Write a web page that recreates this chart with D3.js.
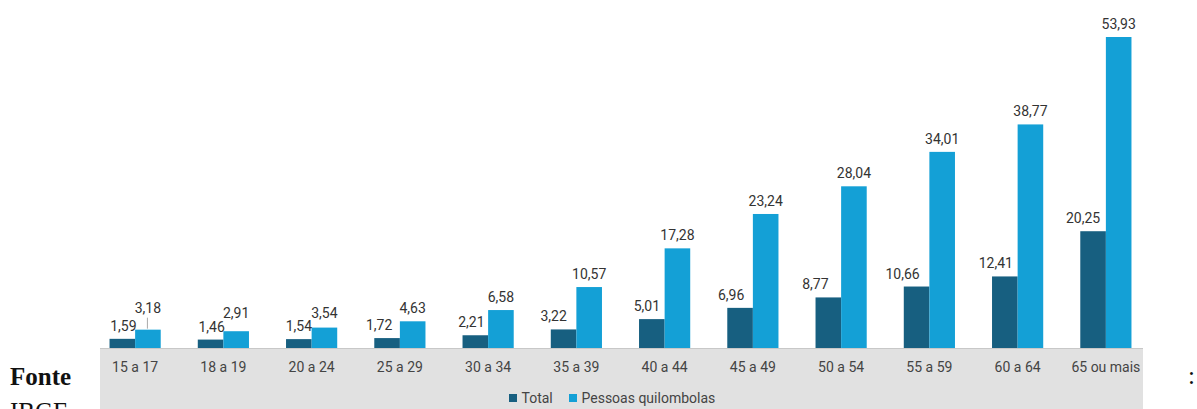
<!DOCTYPE html>
<html lang="pt-BR">
<head>
<meta charset="utf-8">
<script src="https://cdn.jsdelivr.net/npm/d3@7"></script>
<style>
  html, body { margin: 0; padding: 0; background: #fff; }
  svg { display: block; }
  .val { font-family: Roboto, "Noto Sans", sans-serif; font-size: 14px; fill: #333; }
  .cat { font-family: Roboto, "Noto Sans", sans-serif; font-size: 14px; fill: #444; }
  .leg { font-family: Roboto, "Noto Sans", sans-serif; font-size: 14px; fill: #444; }
</style>
</head>
<body>
<svg id="chart" width="1197" height="409"></svg>
<script>
// Faixas etárias
const categories = ["15 a 17", "18 a 19", "20 a 24", "25 a 29", "30 a 34", "35 a 39",
                    "40 a 44", "45 a 49", "50 a 54", "55 a 59", "60 a 64", "65 ou mais"];
// Taxa (%) – população total
const totalValues = [1.59, 1.46, 1.54, 1.72, 2.21, 3.22, 5.01, 6.96, 8.77, 10.66, 12.41, 20.25];
// Taxa (%) – pessoas quilombolas
const quilombolaValues = [3.18, 2.91, 3.54, 4.63, 6.58, 10.57, 17.28, 23.24, 28.04, 34.01, 38.77, 53.93];
const seriesNames = ["Total", "Pessoas quilombolas"];
const seriesColors = ["#175f80", "#14a0d6"];

const svg = d3.select("#chart");
const baseY = 348;

// Small label nudges where neighbouring labels would collide
const darkLabelDx = [1, 1, 0, -8, -4, -10, -5, -9, -13, -14, -9, -10];
const lightLabelLift = [9, 5, 2, 0, 0, 0, 0, 0, 0, 0, 0, 0];

const x0 = d3.scaleBand().domain(categories).range([91, 1150])
  .paddingInner(0.42).paddingOuter(0.21);
const x1 = d3.scaleBand().domain(seriesNames).range([0, x0.bandwidth()]);
const y = d3.scaleLinear().domain([0, d3.max(quilombolaValues)]).range([baseY, 37]);

// Grey band holding the category axis and the legend
svg.append("rect").attr("x", 100).attr("y", baseY).attr("width", 1043).attr("height", 409 - baseY)
  .attr("fill", "#e1e1e1");
svg.append("line").attr("x1", 100).attr("x2", 1143).attr("y1", baseY + 0.5).attr("y2", baseY + 0.5)
  .attr("stroke", "#c8c8c8").attr("stroke-width", 1);

const rows = categories.map((c, i) => ({
  cat: c, i,
  vals: [{ s: seriesNames[0], v: totalValues[i] }, { s: seriesNames[1], v: quilombolaValues[i] }]
}));

const groups = svg.append("g").selectAll("g").data(rows).join("g")
  .attr("transform", d => `translate(${x0(d.cat)},0)`);

groups.selectAll("rect").data(d => d.vals).join("rect")
  .attr("x", d => x1(d.s))
  .attr("y", d => y(d.v))
  .attr("width", x1.bandwidth())
  .attr("height", d => baseY - y(d.v))
  .attr("fill", (d, j) => seriesColors[j]);

const fmt = v => d3.format(".2f")(v).replace(".", ",");

// Value labels
groups.append("text").attr("class", "val").attr("text-anchor", "middle")
  .attr("x", d => x1(seriesNames[0]) + x1.bandwidth() / 2 + darkLabelDx[d.i])
  .attr("y", d => y(totalValues[d.i]) - 8)
  .text(d => fmt(totalValues[d.i]));

groups.append("text").attr("class", "val").attr("text-anchor", "middle")
  .attr("x", d => x1(seriesNames[1]) + x1.bandwidth() / 2)
  .attr("y", d => y(quilombolaValues[d.i]) - 8 - lightLabelLift[d.i])
  .text(d => fmt(quilombolaValues[d.i]));

// Leader line for the raised label
groups.filter(d => lightLabelLift[d.i] > 6).append("line")
  .attr("x1", x1(seriesNames[1]) + x1.bandwidth() / 2 - 0.5)
  .attr("x2", x1(seriesNames[1]) + x1.bandwidth() / 2 - 0.5)
  .attr("y1", d => y(quilombolaValues[d.i]) - lightLabelLift[d.i] - 3)
  .attr("y2", d => y(quilombolaValues[d.i]) - 1)
  .attr("stroke", "#aaa").attr("stroke-width", 1);

// Category axis
const xAxis = d3.axisBottom(x0).tickSize(0).tickPadding(0);
const ax = svg.append("g").attr("transform", `translate(0,${baseY})`).call(xAxis);
ax.select(".domain").remove();
ax.selectAll("text").attr("class", "cat").attr("fill", null).attr("dy", null)
  .attr("y", 23.5).style("font-size", "14px").style("font-family", "Roboto, 'Noto Sans', sans-serif");

// Legend
const legendX = [509, 569];
const leg = svg.append("g").selectAll("g").data(seriesNames).join("g")
  .attr("transform", (d, i) => `translate(${legendX[i]},394)`);
leg.append("rect").attr("width", 8).attr("height", 8).attr("fill", (d, i) => seriesColors[i]);
leg.append("text").attr("class", "leg").attr("x", 12.5).attr("y", 8.5).text(d => d);

// Source note
svg.append("text").attr("x", 10).attr("y", 385)
  .style("font-family", "'Liberation Serif', 'DejaVu Serif', serif").style("font-weight", "bold")
  .style("font-size", "25px").attr("fill", "#111").text("Fonte");
svg.append("text").attr("x", 10).attr("y", 420)
  .style("font-family", "'Liberation Serif', 'DejaVu Serif', serif")
  .style("font-size", "25px").attr("fill", "#111").text("IBGE");
svg.append("text").attr("x", 1188).attr("y", 384)
  .style("font-family", "'Liberation Serif', 'DejaVu Serif', serif")
  .style("font-size", "25px").attr("fill", "#111").text(":");
</script>
</body>
</html>
